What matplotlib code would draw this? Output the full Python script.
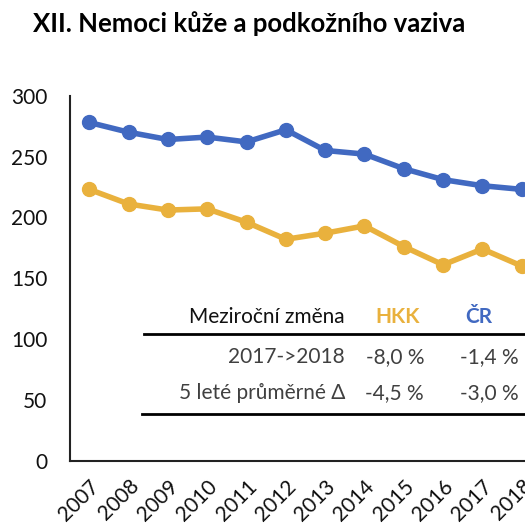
import matplotlib.pyplot as plt
from matplotlib.lines import Line2D

plt.rcParams['font.family'] = ['Lato', 'DejaVu Sans']

# ---- DATA ----
years = ["2007", "2008", "2009", "2010", "2011", "2012",
         "2013", "2014", "2015", "2016", "2017", "2018"]
cr = [278, 270, 264, 266, 262, 272, 255, 252, 240, 231, 226, 223]
hkk = [223, 211, 206, 207, 196, 182, 187, 193, 176, 161, 174, 160]

table_header = ["Meziroční změna", "HKK", "ČR"]
row_labels = ["2017->2018", "5 leté průměrné Δ"]
hkk_change = ["-8,0 %", "-4,5 %"]
cr_change = ["-1,4 %", "-3,0 %"]

BLUE = "#4169C1"
GOLD = "#E9B13D"

W = H = 525


def fx(px):
    return px / W


def fy(py):
    return 1 - py / H


fig = plt.figure(figsize=(5.25, 5.25), dpi=100)
ax = fig.add_axes([fx(69.6), fy(460.7), fx(541.4 - 69.6), (460.7 - 95.7) / H])

x = list(range(len(years)))
ax.plot(x, cr, color=BLUE, lw=4, marker="o", ms=10, solid_capstyle="round", zorder=3)
ax.plot(x, hkk, color=GOLD, lw=4, marker="o", ms=10, solid_capstyle="round", zorder=3)

ax.set_xlim(-0.5, len(years) - 0.5)
ax.set_ylim(0, 300)
ax.set_yticks(range(0, 301, 50))
ax.set_xticks(x)
ax.set_xticklabels(years, rotation=45, ha="right", rotation_mode="anchor")
ax.tick_params(axis="both", length=0, labelsize=15, labelcolor="#111111")
ax.tick_params(axis="y", pad=16)
ax.tick_params(axis="x", pad=11)
for s in ["top", "right"]:
    ax.spines[s].set_visible(False)
for s in ["left", "bottom"]:
    ax.spines[s].set_color("#222222")
    ax.spines[s].set_linewidth(1.5)

# title
fig.text(fx(33), fy(32), "XII. Nemoci kůže a podkožního vaziva",
         fontsize=18.5, fontweight="bold", ha="left", va="baseline")

# ---- TABLE ----
col_label = fx(345)
col_hkk = fx(424)
col_cr = fx(519)
fs = 15
fig.text(col_label, fy(317), table_header[0], fontsize=fs, ha="right", va="center",
         color="#111111")
fig.text(fx(375), fy(317), table_header[1], fontsize=fs, ha="left", va="center",
         color=GOLD, fontweight="bold")
fig.text(fx(465), fy(317), table_header[2], fontsize=fs, ha="left", va="center",
         color=BLUE, fontweight="bold")

row_y = [357, 393]
for lab, h, c, yy in zip(row_labels, hkk_change, cr_change, row_y):
    fig.text(col_label, fy(yy), lab, fontsize=fs, ha="right", va="center", color="#404040")
    fig.text(col_hkk, fy(yy), h, fontsize=fs, ha="right", va="center", color="#404040")
    fig.text(col_cr, fy(yy), c, fontsize=fs, ha="right", va="center", color="#404040")

for yy, x0 in [(334, 144), (414, 142)]:
    fig.add_artist(Line2D([fx(x0), 1.0], [fy(yy), fy(yy)], color="black", lw=2))

fig.savefig("out.png", dpi=100)
